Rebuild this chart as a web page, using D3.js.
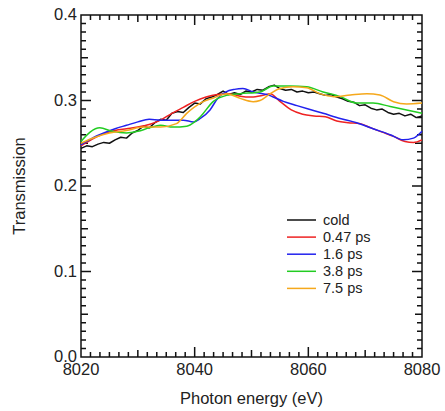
<!DOCTYPE html>
<html>
<head>
<meta charset="utf-8">
<script src="https://cdn.jsdelivr.net/npm/d3@7"></script>
<style>
  body { margin: 0; background: #fff; }
  text { font-family: "Liberation Sans", Arial, sans-serif; fill: #222; }
</style>
</head>
<body>
<div id="chart-area"></div>
<script>
// data (photon energy in eV, transmission)
let coldE = d3.range(8020, 8081);
let coldT = [0.244,0.247,0.246,0.249,0.251,0.250,0.254,0.257,0.256,0.262,
             0.265,0.270,0.268,0.274,0.278,0.277,0.285,0.287,0.286,0.292,
             0.297,0.296,0.302,0.304,0.307,0.311,0.307,0.309,0.307,0.311,
             0.310,0.313,0.312,0.316,0.318,0.314,0.312,0.313,0.310,0.311,
             0.309,0.310,0.308,0.306,0.307,0.304,0.302,0.299,0.298,0.294,
             0.295,0.291,0.289,0.290,0.286,0.284,0.285,0.282,0.284,0.280,0.282];

let e047 = [8020,8022,8024,8026,8028,8030,8032,8034,8036,8038,8040,8042,8044,8046,8048,8050,8052,8053.3,8055,8057,8059,8061,8063,8065,8067,8069,8071,8073,8075,8077,8078.5,8080];
let t047 = [0.247,0.255,0.261,0.265,0.267,0.269,0.272,0.277,0.285,0.292,0.299,0.304,0.307,0.308,0.305,0.304,0.306,0.308,0.299,0.289,0.284,0.282,0.281,0.276,0.274,0.273,0.268,0.263,0.258,0.252,0.251,0.254];

let e16 = [8020,8022,8024,8026,8028,8030,8032,8034,8036,8038,8039.8,8041,8042.7,8044,8045.5,8047,8048.5,8050.3,8052.7,8055.6,8058,8060,8062.6,8065.6,8068.5,8071.4,8074.4,8076.7,8078.5,8080];
let t16 = [0.248,0.256,0.262,0.267,0.271,0.275,0.278,0.277,0.277,0.277,0.275,0.279,0.289,0.302,0.310,0.313,0.314,0.310,0.307,0.299,0.294,0.290,0.285,0.279,0.274,0.267,0.260,0.254,0.256,0.264];

let e38 = [8020,8021.6,8023.3,8025.5,8028,8030,8032,8034,8036.2,8038.6,8040,8041,8043.3,8045.6,8048,8051.5,8053.8,8056.8,8059.7,8062.6,8065.6,8068.5,8071.4,8074.4,8077.3,8080];
let t38 = [0.252,0.263,0.268,0.264,0.262,0.264,0.268,0.271,0.269,0.270,0.275,0.281,0.299,0.306,0.308,0.310,0.317,0.317,0.316,0.310,0.3045,0.297,0.297,0.293,0.289,0.285];

let e75 = [8020,8022.5,8025,8028,8031,8034,8036.8,8038.6,8041,8043.3,8045.6,8048,8050.3,8051.5,8053.3,8055,8057.3,8059.7,8062,8064.5,8067.4,8070.3,8072.6,8075,8077.3,8080];
let t75 = [0.250,0.257,0.262,0.265,0.269,0.269,0.273,0.285,0.297,0.303,0.308,0.3025,0.2986,0.300,0.308,0.314,0.316,0.315,0.308,0.3045,0.3065,0.308,0.3065,0.2986,0.296,0.297];

let seriesNames = ["cold", "0.47 ps", "1.6 ps", "3.8 ps", "7.5 ps"];
let seriesColors = ["#111111", "#ee2222", "#2222ee", "#22cc22", "#f5a81c"];
let seriesE = [coldE, e047, e16, e38, e75];
let seriesT = [coldT, t047, t16, t38, t75];

let xMajor = [8020, 8040, 8060, 8080];
let xMid = [8030, 8050, 8070];
let yMajor = [0.0, 0.1, 0.2, 0.3, 0.4];
let yMid = [0.05, 0.15, 0.25, 0.35];

let W = 445, H = 411;
let mTop = 15, mRight = 23, mBottom = 54, mLeft = 81;
let yBot = H - mBottom, xRight = W - mRight;

let svg = d3.select("#chart-area").append("svg")
    .attr("width", W)
    .attr("height", H);

let xScale = d3.scaleLinear().domain([8020, 8080]).range([mLeft, xRight]);
let yScale = d3.scaleLinear().domain([0, 0.4]).range([yBot, mTop]);

// tick positions: major, middle and minor
let near = (a, list) => list.some(m => Math.abs(m - a) < 1e-6);
let xMinor = d3.range(0, 37).map(i => 8020 + i * 10 / 6).filter(v => !near(v, xMajor) && !near(v, xMid));
let yMinor = d3.range(0, 41).map(i => i / 100).filter(v => !near(v, yMajor) && !near(v, yMid));

let xTicks = xMajor.map(v => ({v: v, len: 10}))
    .concat(xMid.map(v => ({v: v, len: 7})))
    .concat(xMinor.map(v => ({v: v, len: 5})));
let yTicks = yMajor.map(v => ({v: v, len: 10}))
    .concat(yMid.map(v => ({v: v, len: 7})))
    .concat(yMinor.map(v => ({v: v, len: 5})));

// frame and inward ticks on all four sides, one path
let tp = d3.path();
tp.moveTo(mLeft, mTop); tp.lineTo(xRight, mTop); tp.lineTo(xRight, yBot); tp.lineTo(mLeft, yBot); tp.closePath();
xTicks.forEach(t => {
  let px = xScale(t.v);
  tp.moveTo(px, yBot); tp.lineTo(px, yBot - t.len);
  tp.moveTo(px, mTop); tp.lineTo(px, mTop + t.len);
});
yTicks.forEach(t => {
  let py = yScale(t.v);
  tp.moveTo(mLeft, py); tp.lineTo(mLeft + t.len, py);
  tp.moveTo(xRight, py); tp.lineTo(xRight - t.len, py);
});
svg.append("path")
    .attr("d", tp.toString())
    .attr("fill", "none")
    .attr("stroke", "#111111")
    .attr("stroke-width", 1.5);

// curves
let rough = d3.line()
    .x(d => xScale(d[0]))
    .y(d => yScale(d[1]));

let smooth = d3.line()
    .curve(d3.curveMonotoneX)
    .x(d => xScale(d[0]))
    .y(d => yScale(d[1]));

seriesE.forEach((es, i) => {
  let pts = es.map((e, j) => [e, seriesT[i][j]]);
  svg.append("path")
      .datum(pts)
      .attr("fill", "none")
      .attr("stroke", seriesColors[i])
      .attr("stroke-width", 1.5)
      .attr("stroke-linejoin", "round")
      .attr("d", i === 0 ? rough : smooth);
});

// tick labels
svg.selectAll(".xlab").data(xMajor).join("text")
    .attr("class", "xlab")
    .attr("x", d => xScale(d))
    .attr("y", yBot + 18)
    .attr("text-anchor", "middle")
    .attr("font-size", 16.5)
    .text(d => d);

svg.selectAll(".ylab").data(yMajor).join("text")
    .attr("class", "ylab")
    .attr("x", mLeft - 4)
    .attr("y", d => yScale(d) + 5)
    .attr("text-anchor", "end")
    .attr("font-size", 16.5)
    .text(d => d3.format(".1f")(d));

// legend
let legend = svg.append("g").attr("transform", "translate(287,220)");
seriesNames.forEach((name, i) => {
  let row = legend.append("g").attr("transform", `translate(0,${i * 17.1})`);
  row.append("line")
      .attr("x1", 0).attr("x2", 29)
      .attr("y1", 0).attr("y2", 0)
      .attr("stroke", seriesColors[i])
      .attr("stroke-width", 1.5);
  row.append("text")
      .attr("x", 36)
      .attr("y", 5)
      .attr("font-size", 14.5)
      .text(name);
});

// axis titles
svg.append("text")
    .attr("x", (mLeft + xRight) / 2)
    .attr("y", 404)
    .attr("text-anchor", "middle")
    .attr("font-size", 16.5)
    .text("Photon energy (eV)");

svg.append("text")
    .attr("transform", `translate(25,${(mTop + yBot) / 2}) rotate(-90)`)
    .attr("text-anchor", "middle")
    .attr("font-size", 16.5)
    .text("Transmission");
</script>
</body>
</html>
